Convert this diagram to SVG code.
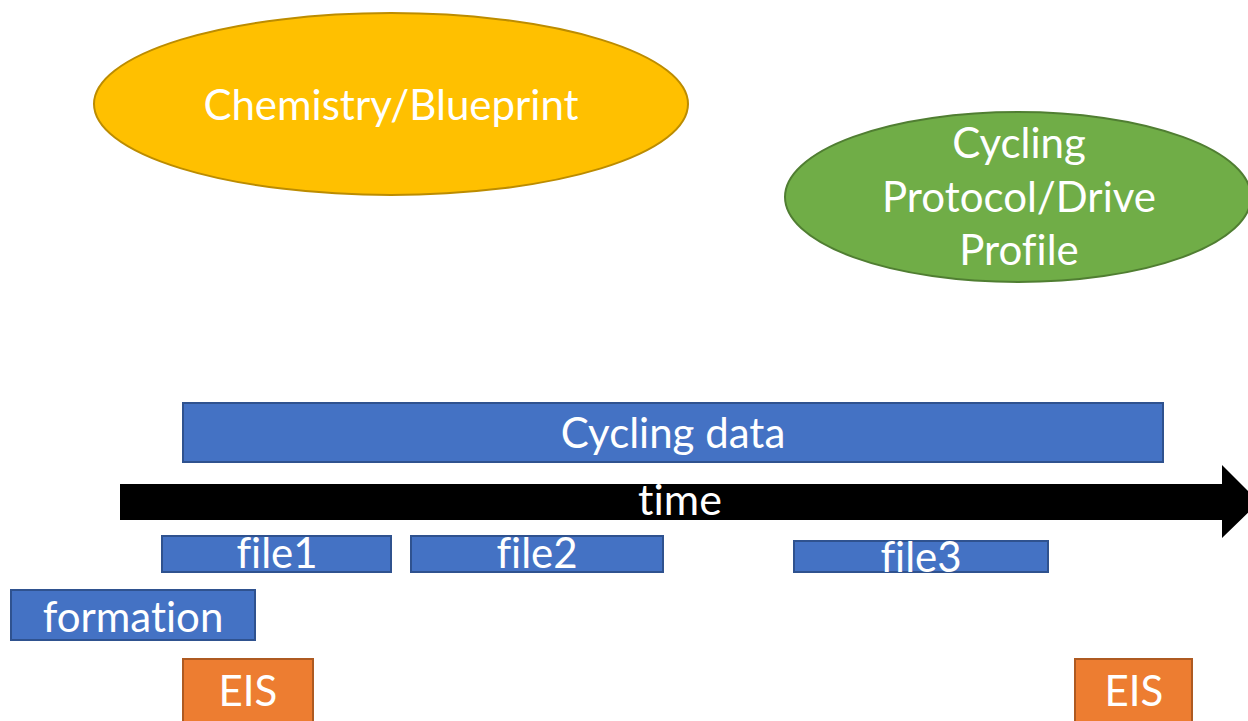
<svg xmlns="http://www.w3.org/2000/svg" width="1248" height="721" viewBox="0 0 1248 721">
<style>
text{font-family:Lato,"Open Sans","Liberation Sans",sans-serif;fill:#fff;text-anchor:middle;font-size:42px;font-variant-ligatures:none}
.blue{fill:#4472C4;stroke:#2F528F;stroke-width:2}
.orange{fill:#ED7D31;stroke:#AE5A21;stroke-width:2}
</style>
<rect width="1248" height="721" fill="#fff"/>
<g id="chemistry">
<ellipse cx="391" cy="104" rx="297" ry="91" fill="#FFC000" stroke="#BC8C00" stroke-width="2"/>
<text x="391" y="120">Chemistry/Blueprint</text>
</g>
<g id="protocol">
<ellipse cx="1018" cy="197" rx="233" ry="85" fill="#70AD47" stroke="#507E32" stroke-width="2"/>
<text x="1019" y="158">Cycling</text>
<text x="1019" y="212">Protocol/Drive</text>
<text x="1019" y="265">Profile</text>
</g>
<g id="cycling-data">
<rect class="blue" x="183" y="403" width="980" height="59"/>
<text x="673" y="448">Cycling data</text>
</g>
<g id="connectors">
<path d="M120 484 H1222 V465 L1259 502 L1222 538 V520 H120 Z" fill="#000"/>
<text x="680" y="515" style="font-size:43px">time</text>
</g>
<g id="file1">
<rect class="blue" x="162" y="536" width="229" height="36"/>
<text x="277" y="568">file1</text>
</g>
<g id="file2">
<rect class="blue" x="411" y="536" width="252" height="36"/>
<text x="537" y="568">file2</text>
</g>
<g id="file3">
<rect class="blue" x="794" y="541" width="254" height="31"/>
<text x="921" y="572">file3</text>
</g>
<g id="formation">
<rect class="blue" x="11" y="590" width="244" height="50"/>
<text x="133" y="632">formation</text>
</g>
<g id="eis1">
<rect class="orange" x="183" y="659" width="130" height="70"/>
<text x="248" y="706">EIS</text>
</g>
<g id="eis2">
<rect class="orange" x="1075" y="659" width="117" height="70"/>
<text x="1134" y="706">EIS</text>
</g>
</svg>
